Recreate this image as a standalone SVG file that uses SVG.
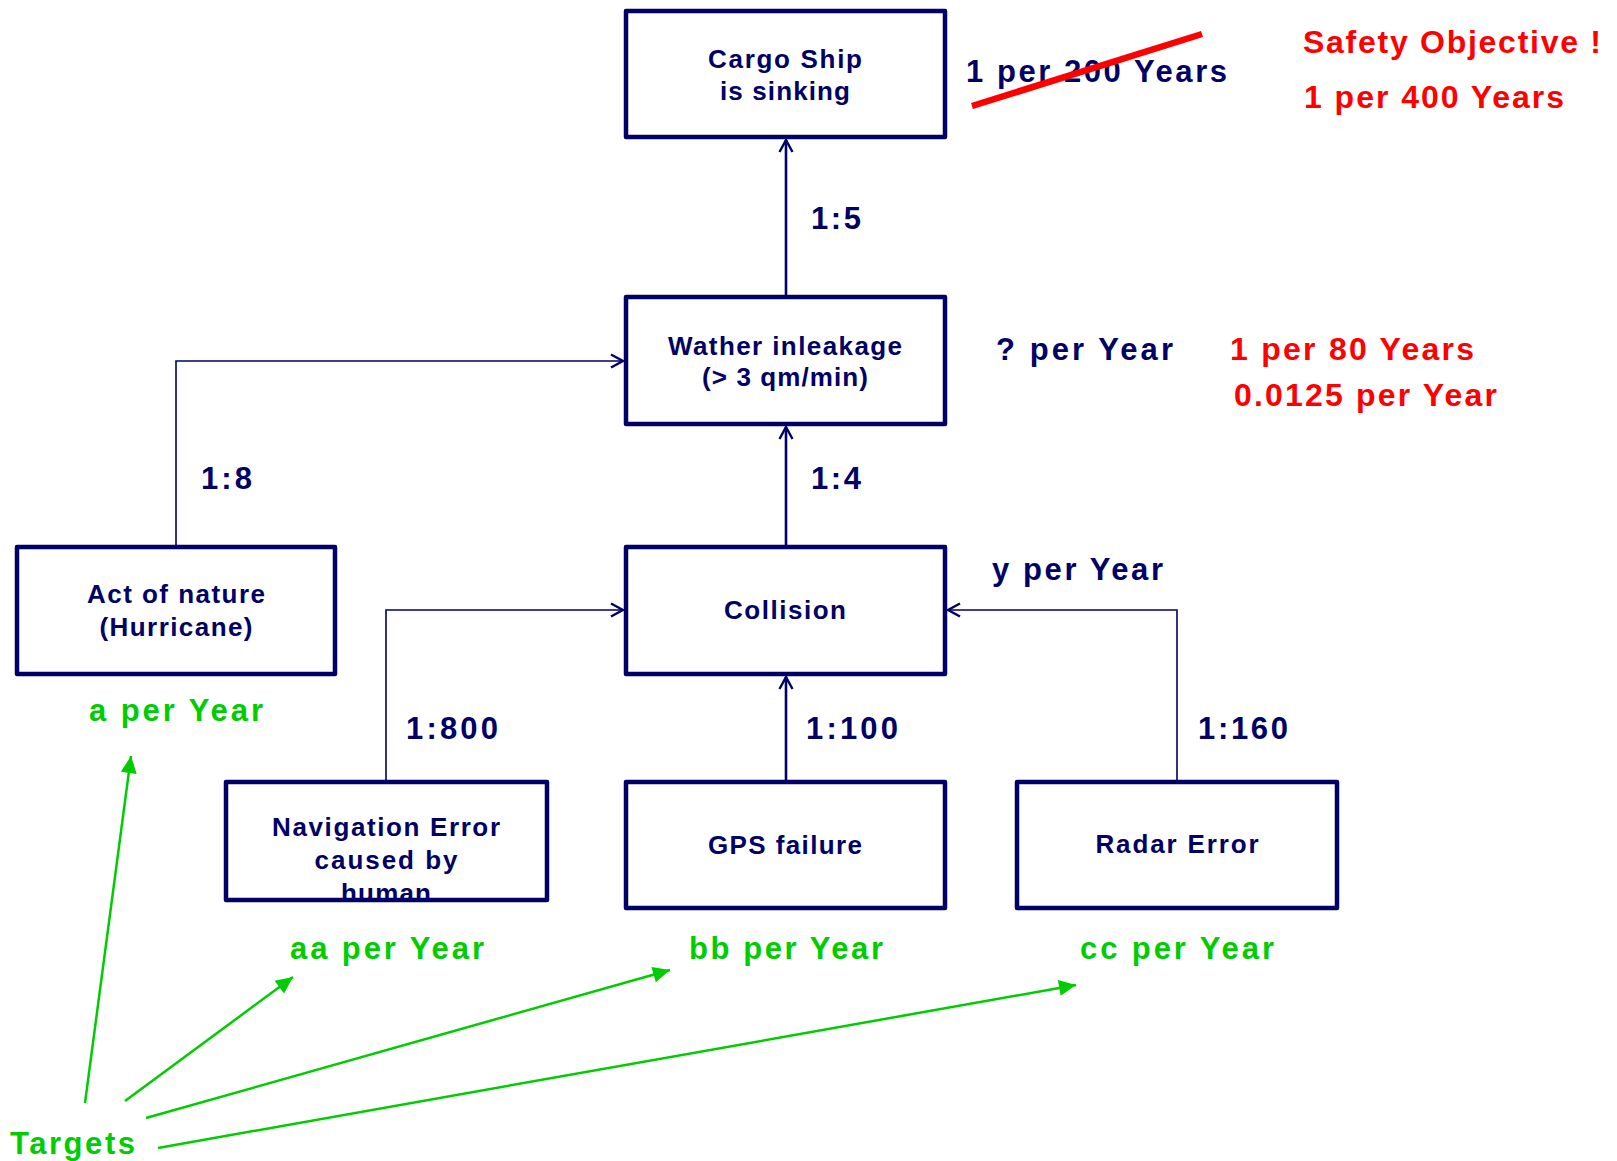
<svg xmlns="http://www.w3.org/2000/svg" width="1617" height="1161" viewBox="0 0 1617 1161">
  <defs>
    <style>
      text { font-family: "Liberation Sans", Arial, sans-serif; font-weight: bold; }
      .box { fill: none; stroke: #000066; stroke-width: 4.5; stroke-linejoin: round; }
      .bt { font-size: 26px; fill: #000066; text-anchor: middle; }
      .lbl { font-size: 31px; fill: #000066; }
      .red { font-size: 32px; fill: #ff0000; }
      .grn { font-size: 31px; fill: #00cc00; }
      .main { fill: none; stroke: #000066; stroke-width: 2.6; }
      .side { fill: none; stroke: #000066; stroke-width: 1.6; }
      .tgt { fill: none; stroke: #00cc00; stroke-width: 2.5; }
    </style>
    <marker id="chev" viewBox="-14 -8 16 16" markerWidth="16" markerHeight="16" refX="0" refY="0" orient="auto" markerUnits="userSpaceOnUse">
      <path d="M-12,-6.5 L0,0 L-12,6.5" fill="none" stroke="#000066" stroke-width="2.4"/>
    </marker>
    <marker id="tri" viewBox="-18 -9 19 18" markerWidth="19" markerHeight="18" refX="0" refY="0" orient="auto" markerUnits="userSpaceOnUse">
      <path d="M-17,-8 L0,0 L-17,8 Z" fill="#00cc00"/>
    </marker>
  </defs>

  <rect x="0" y="0" width="1617" height="1161" fill="#ffffff"/>

  <!-- connectors -->
  <g id="connectors">
    <path class="main" d="M786,297 L786,140" marker-end="url(#chev)"/>
    <path class="main" d="M786,547 L786,427" marker-end="url(#chev)"/>
    <path class="main" d="M786,782 L786,677" marker-end="url(#chev)"/>
    <path class="side" d="M176,547 L176,361 L623,361" marker-end="url(#chev)"/>
    <path class="side" d="M386,782 L386,610 L623,610" marker-end="url(#chev)"/>
    <path class="side" d="M1177,782 L1177,610 L948,610" marker-end="url(#chev)"/>
    <!-- target pointers -->
    <path class="tgt" d="M85,1103 L131,756" marker-end="url(#tri)"/>
    <path class="tgt" d="M125,1101 L293,977" marker-end="url(#tri)"/>
    <path class="tgt" d="M146,1118 L670,970" marker-end="url(#tri)"/>
    <path class="tgt" d="M158,1148 L1076,985" marker-end="url(#tri)"/>
  </g>

  <!-- nodes -->
  <g id="cargo-ship">
    <rect class="box" x="626" y="11" width="319" height="126"/>
    <text class="bt" x="785" y="68" textLength="154" lengthAdjust="spacing">Cargo Ship</text>
    <text class="bt" x="785" y="100" textLength="130" lengthAdjust="spacing">is sinking</text>
  </g>
  <g id="water-inleakage">
    <rect class="box" x="626" y="297" width="319" height="127"/>
    <text class="bt" x="785" y="355" textLength="234" lengthAdjust="spacing">Wather inleakage</text>
    <text class="bt" x="785" y="386" textLength="166" lengthAdjust="spacing">(&gt; 3 qm/min)</text>
  </g>
  <g id="act-of-nature">
    <rect class="box" x="17" y="547" width="318" height="127"/>
    <text class="bt" x="176" y="603" textLength="178" lengthAdjust="spacing">Act of nature</text>
    <text class="bt" x="176" y="636" textLength="153" lengthAdjust="spacing">(Hurricane)</text>
  </g>
  <g id="collision">
    <rect class="box" x="626" y="547" width="319" height="127"/>
    <text class="bt" x="785" y="619" textLength="122" lengthAdjust="spacing">Collision</text>
  </g>
  <g id="navigation-error">
    <text class="bt" x="386" y="836" textLength="228" lengthAdjust="spacing">Navigation Error</text>
    <text class="bt" x="386" y="869" textLength="143" lengthAdjust="spacing">caused by</text>
    <text class="bt" x="386" y="902" textLength="90" lengthAdjust="spacing">human</text>
    <rect x="222" y="902.5" width="330" height="12" fill="#ffffff"/>
    <rect class="box" x="226" y="782" width="321" height="118"/>
  </g>
  <g id="gps-failure">
    <rect class="box" x="626" y="782" width="319" height="126"/>
    <text class="bt" x="785" y="854" textLength="154" lengthAdjust="spacing">GPS failure</text>
  </g>
  <g id="radar-error">
    <rect class="box" x="1017" y="782" width="320" height="126"/>
    <text class="bt" x="1177" y="853" textLength="163" lengthAdjust="spacing">Radar Error</text>
  </g>

  <!-- ratio labels -->
  <g id="ratios">
    <text class="lbl" x="811" y="229" textLength="50" lengthAdjust="spacing">1:5</text>
    <text class="lbl" x="201" y="489" textLength="51" lengthAdjust="spacing">1:8</text>
    <text class="lbl" x="811" y="489" textLength="50" lengthAdjust="spacing">1:4</text>
    <text class="lbl" x="406" y="739" textLength="92" lengthAdjust="spacing">1:800</text>
    <text class="lbl" x="806" y="739" textLength="92" lengthAdjust="spacing">1:100</text>
    <text class="lbl" x="1198" y="739" textLength="90" lengthAdjust="spacing">1:160</text>
  </g>

  <!-- frequencies -->
  <g id="frequencies">
    <text class="lbl" x="966" y="82" font-size="32" textLength="261" lengthAdjust="spacing">1 per 200 Years</text>
    <line x1="972" y1="106" x2="1202" y2="34" stroke="#ff0000" stroke-width="6.5"/>
    <text class="red" x="1303" y="53" textLength="298" lengthAdjust="spacing">Safety Objective !</text>
    <text class="red" x="1304" y="108" textLength="260" lengthAdjust="spacing">1 per 400 Years</text>
    <text class="lbl" x="996" y="360" textLength="177" lengthAdjust="spacing">? per Year</text>
    <text class="red" x="1230" y="360" font-size="31" textLength="244" lengthAdjust="spacing">1 per 80 Years</text>
    <text class="red" x="1234" y="406" font-size="31" textLength="263" lengthAdjust="spacing">0.0125 per Year</text>
    <text class="lbl" x="992" y="580" textLength="171" lengthAdjust="spacing">y per Year</text>
  </g>

  <!-- targets -->
  <g id="targets">
    <text class="grn" x="89" y="721" textLength="174" lengthAdjust="spacing">a per Year</text>
    <text class="grn" x="290" y="959" textLength="194" lengthAdjust="spacing">aa per Year</text>
    <text class="grn" x="689" y="959" textLength="194" lengthAdjust="spacing">bb per Year</text>
    <text class="grn" x="1080" y="959" textLength="194" lengthAdjust="spacing">cc per Year</text>
    <text class="grn" x="10" y="1154" textLength="125" lengthAdjust="spacing">Targets</text>
  </g>
</svg>
